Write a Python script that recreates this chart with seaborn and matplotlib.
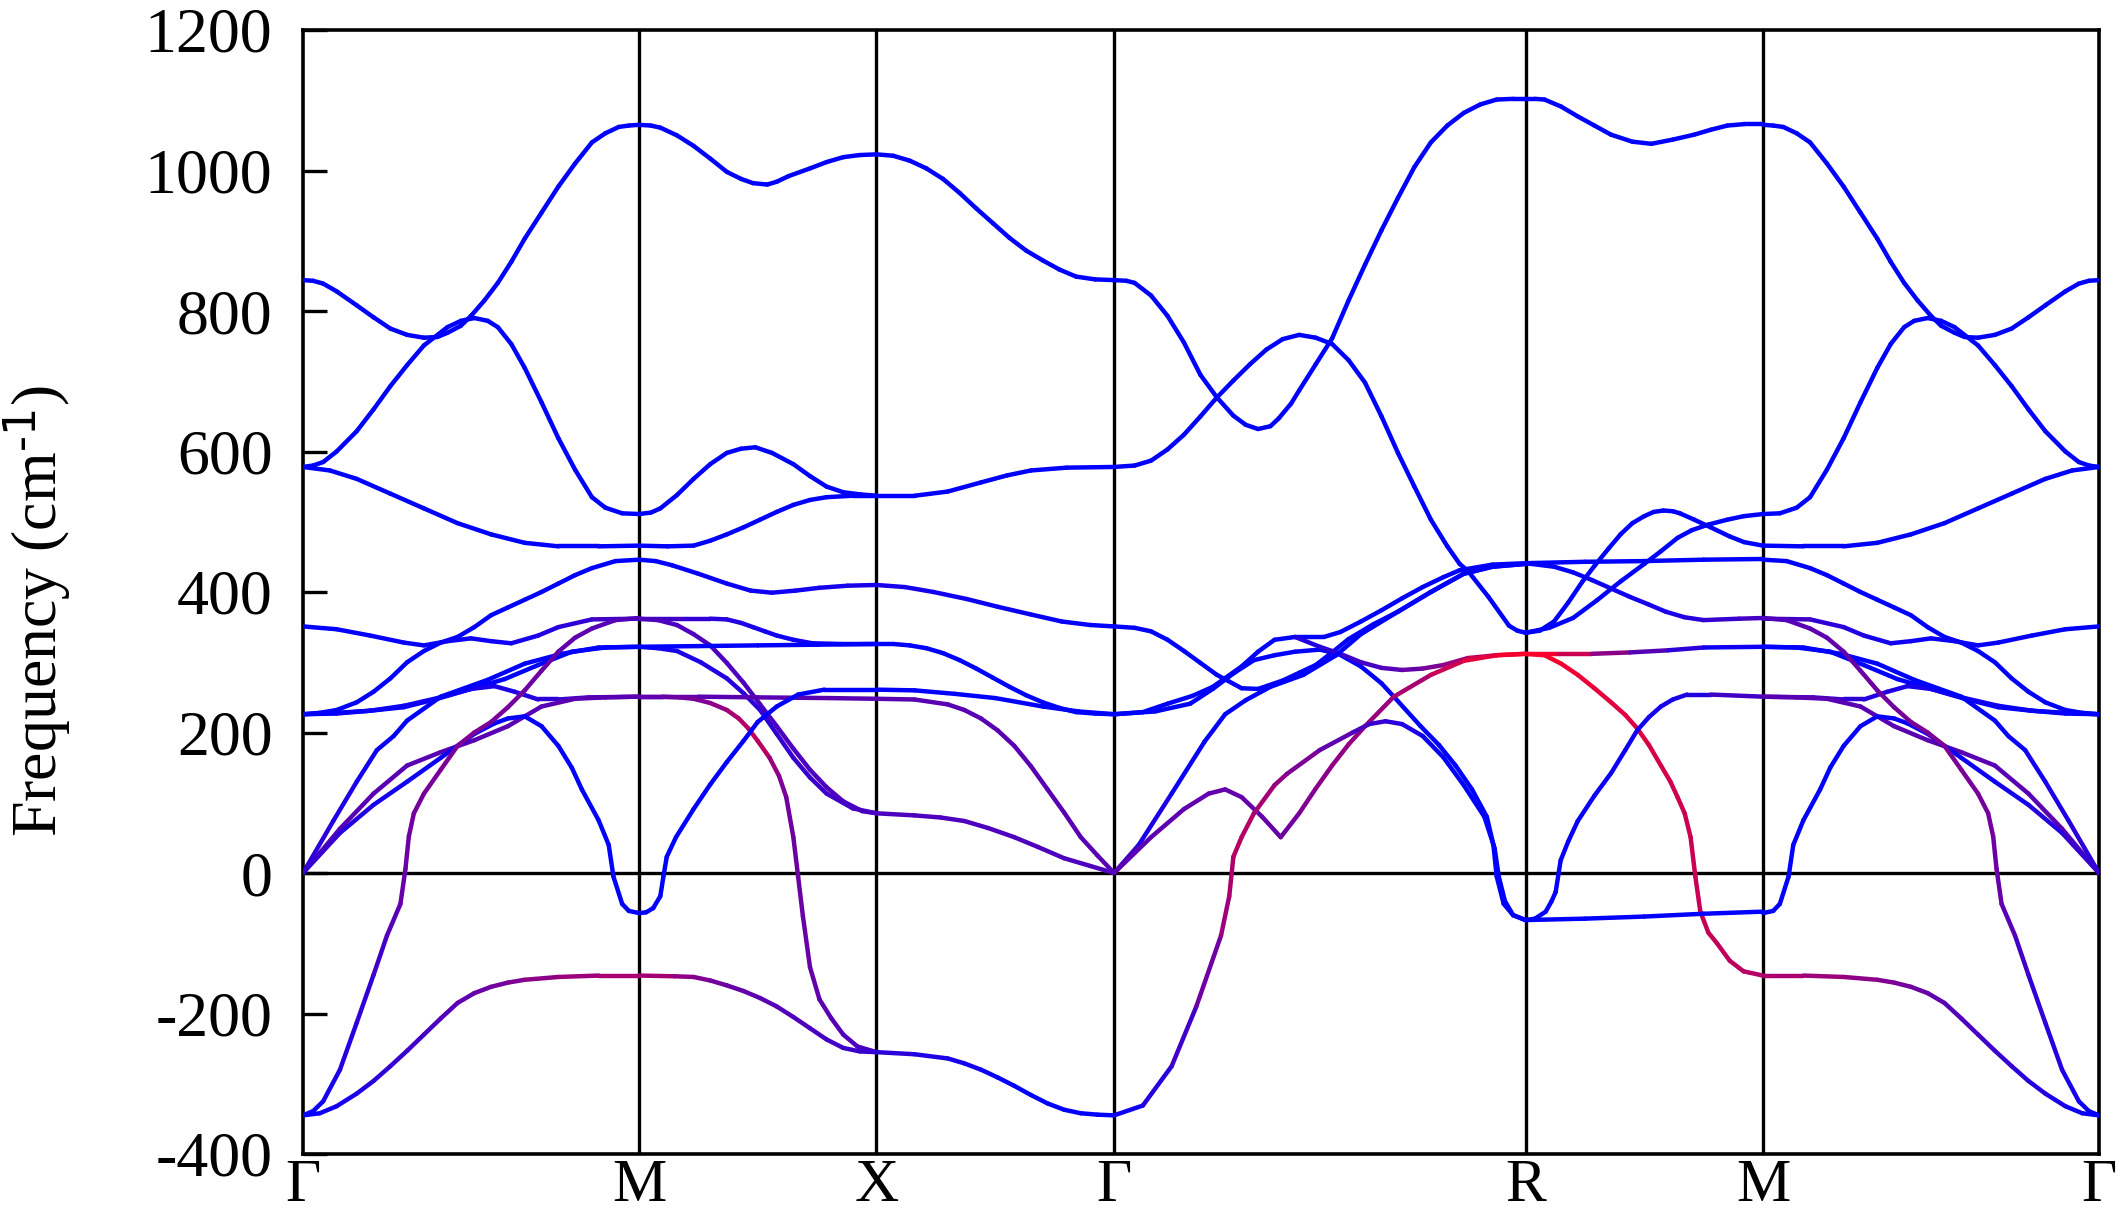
import numpy as np
import pandas as pd
import matplotlib
matplotlib.use('Agg')
import matplotlib.pyplot as plt
import seaborn as sns

sns.set_theme(style='white')
plt.rcParams['font.family'] = ['Liberation Serif', 'DejaVu Serif']
plt.rcParams['mathtext.default'] = 'regular'
plt.rcParams['axes.unicode_minus'] = False

# camino de alta simetria (celda cubica simple)
labels = ['Γ', 'M', 'X', 'Γ', 'R', 'M', 'Γ']
seg_len = [np.sqrt(2), 1.0, 1.0, np.sqrt(3), 1.0, np.sqrt(2)]
yticks = [-400, -200, 0, 200, 400, 600, 800, 1000, 1200]

# cada rama: (fraccion del tramo, frecuencia cm-1, paradas de color (t, w)); w: 0 azul -> 1 rojo
gm_bands = [
    ([0, .03, .06, .1, .16, .21, .26, .31, .36, .40, .43, .47, .50, .54, .58, .62, .66, .71, .76, .81, .86, .9, .94, .97, 1],
     [844, 843, 839, 828, 808, 791, 775, 766, 762, 763, 769, 779, 793, 815, 840, 870, 903, 940, 977, 1010, 1040, 1053, 1062, 1064, 1065], [(0, 0)]),
    ([0, .03, .06, .1, .16, .21, .26, .31, .36, .43, .47, .51, .55, .58, .62, .66, .71, .76, .81, .86, .9, .95, 1],
     [578, 580, 585, 600, 629, 660, 693, 723, 751, 777, 786, 790, 786, 777, 753, 719, 670, 619, 574, 535, 520, 512, 511], [(0, 0)]),
    ([0, .08, .16, .26, .36, .46, .56, .66, .76, .88, 1], [578, 573, 561, 540, 519, 498, 482, 470, 465, 465, 466], [(0, 0)]),
    ([0, .05, .10, .16, .21, .26, .31, .36, .41, .46, .51, .56, .61, .66, .71, .76, .81, .86, .93, 1],
     [226, 228, 232, 243, 258, 277, 300, 316, 328, 336, 350, 367, 378, 389, 400, 412, 424, 434, 444, 446], [(0, 0)]),
    ([0, .1, .2, .3, .36, .43, .5, .56, .62, .7, .76, .86, 1], [351, 347, 338, 328, 324, 330, 334, 330, 327, 338, 350, 361, 362], [(0, 0), (.6, .05), (1, .3)]),
    ([0, .1, .2, .3, .4, .5, .6, .7, .8, .9, 1], [226, 228, 231, 236, 248, 262, 276, 296, 315, 321, 322], [(0, 0)]),
    ([0, .1, .2, .3, .4, .5, .57, .63, .7, .76, .85, 1], [226, 227, 231, 238, 249, 262, 266, 258, 247, 247, 250, 251], [(0, 0), (.6, .1), (1, .35)]),
    ([0, .11, .21, .31, .41, .51, .61, .71, .81, .9, 1], [0, 63, 113, 153, 172, 189, 209, 237, 248, 250, 251], [(0, .35)]),
    ([0, .09, .16, .22, .27, .31, .41, .55, .66, .77, .88, 1], [0, 74, 130, 175, 195, 217, 251, 275, 298, 312, 321, 322], [(0, .2), (.3, 0)]),
    ([0, .11, .21, .31, .41, .51, .57, .61, .66, .71, .76, .8, .83, .88, .91, .924, .95, .97, 1],
     [0, 57, 97, 130, 164, 198, 213, 220, 223, 209, 181, 150, 119, 75, 40, -5, -44, -54, -57], [(0, .25), (.3, .05), (1, 0)]),
    ([0, .03, .06, .11, .16, .21, .25, .29, .305, .315, .33, .36, .41, .46, .51, .56, .61, .66, .71, .76, .81, .86, .93, 1],
     [-345, -339, -325, -280, -213, -145, -89, -44, 6, 52, 85, 113, 147, 181, 200, 215, 236, 260, 288, 315, 335, 348, 360, 363],
     [(0, 0), (.2, .2), (.32, .45), (.5, .5), (1, .3)]),
    ([0, .05, .1, .16, .21, .26, .31, .36, .41, .46, .51, .56, .61, .66, .76, .88, 1],
     [-345, -342, -332, -314, -296, -275, -253, -230, -207, -185, -171, -162, -156, -152, -148, -146, -146], [(0, 0), (.4, .3), (.7, .55), (1, .7)]),
]

mx_bands = [
    ([0, .05, .09, .16, .23, .3, .37, .43, .48, .54, .58, .63, .72, .79, .86, .93, 1],
     [1065, 1064, 1061, 1050, 1035, 1017, 998, 988, 982, 980, 984, 992, 1003, 1012, 1019, 1022, 1023], [(0, 0)]),
    ([0, .05, .09, .16, .23, .3, .37, .43, .49, .56, .65, .72, .79, .86, .93, 1],
     [511, 513, 519, 538, 561, 582, 598, 604, 606, 598, 582, 565, 550, 542, 539, 537], [(0, 0)]),
    ([0, .12, .23, .3, .37, .44, .51, .58, .65, .72, .79, .9, 1], [466, 465, 466, 473, 482, 492, 503, 514, 524, 531, 535, 537, 537], [(0, 0)]),
    ([0, .07, .14, .25, .37, .47, .56, .66, .76, .88, 1], [446, 444, 438, 426, 412, 402, 399, 402, 406, 409, 410], [(0, 0), (1, .1)]),
    ([0, .2, .3, .37, .43, .48, .53, .58, .65, .73, .85, 1], [362, 362, 362, 361, 356, 350, 344, 338, 332, 327, 326, 326], [(0, .3), (.6, .05)]),
    ([0, .08, .16, .23, .3, .37, .44, .51, .58, .65, .72, .79, .86, .94, 1],
     [362, 360, 353, 340, 324, 299, 271, 240, 209, 177, 147, 122, 102, 88, 85], [(0, .3)]),
    ([0, .08, .16, .26, .37, .44, .51, .58, .65, .72, .79, .9, 1], [322, 320, 316, 300, 277, 256, 232, 198, 164, 136, 113, 92, 85], [(0, .05), (.6, .2), (1, .3)]),
    ([0, .25, .5, .75, 1], [322, 323, 324, 325, 326], [(0, 0)]),
    ([0, .25, .5, .8, 1], [251, 251, 250, 249, 248], [(0, .35)]),
    ([0, .1, .17, .23, .3, .37, .42, .46, .5, .55, .59, .62, .65, .67, .69, .72, .76, .81, .86, .92, 1],
     [251, 251, 250, 248, 242, 232, 220, 206, 188, 164, 138, 108, 51, -5, -61, -134, -180, -207, -230, -247, -255],
     [(0, .35), (.3, .5), (.5, .8), (.62, .45), (1, .25)]),
    ([0, .03, .06, .09, .103, .117, .156, .23, .3, .37, .44, .5, .58, .67, .78, 1],
     [-57, -56, -50, -33, -5, 23, 51, 91, 126, 158, 188, 215, 237, 254, 261, 261], [(0, 0)]),
    ([0, .15, .23, .3, .37, .44, .51, .58, .65, .72, .79, .86, .93, 1],
     [-146, -147, -148, -153, -160, -168, -178, -190, -205, -221, -237, -249, -254, -255], [(0, .7), (.4, .4), (1, .2)]),
]

xg_bands = [
    ([0, .07, .14, .21, .28, .35, .42, .49, .56, .63, .7, .77, .84, .92, 1],
     [1023, 1021, 1014, 1003, 988, 968, 946, 925, 904, 886, 872, 859, 849, 845, 844], [(0, 0)]),
    ([0, .16, .3, .44, .55, .65, .8, 1], [537, 537, 543, 556, 566, 573, 577, 578], [(0, 0)]),
    ([0, .12, .24, .38, .51, .65, .78, .9, 1], [410, 407, 400, 390, 379, 368, 358, 353, 351], [(0, .1), (1, 0)]),
    ([0, .07, .14, .21, .28, .35, .42, .49, .56, .63, .7, .77, .84, .92, 1],
     [326, 326, 324, 320, 313, 303, 291, 278, 265, 253, 243, 235, 229, 227, 226], [(0, 0)]),
    ([0, .16, .33, .5, .7, .85, 1], [261, 260, 255, 249, 237, 230, 226], [(0, 0)]),
    ([0, .16, .3, .37, .44, .51, .58, .65, .72, .79, .86, .93, 1], [248, 247, 240, 232, 220, 203, 181, 152, 119, 86, 51, 25, 0], [(0, .35)]),
    ([0, .16, .27, .37, .47, .58, .68, .79, .9, 1], [85, 82, 79, 74, 64, 51, 37, 21, 10, 0], [(0, .3)]),
    ([0, .16, .3, .37, .44, .51, .58, .65, .72, .79, .86, .93, 1],
     [-255, -258, -264, -271, -280, -291, -303, -316, -328, -337, -342, -344, -345], [(0, .2), (.6, 0)]),
]

gr_bands = [
    ([0, .03, .05, .09, .13, .17, .21, .25, .29, .32, .35, .38, .40, .43, .45, .49, .53, .57, .61, .65, .69, .73, .77, .81, .85, .89, .93, .97, 1],
     [844, 843, 840, 822, 793, 755, 709, 677, 651, 638, 632, 636, 647, 668, 687, 724, 761, 815, 866, 915, 961, 1005, 1040, 1064, 1082, 1094, 1101, 1102, 1102], [(0, 0)]),
    ([0, .05, .09, .13, .17, .21, .25, .29, .33, .37, .41, .45, .49, .53, .57, .61, .65, .69, .73, .77, .81, .84, .86, .91, .96, .98, 1],
     [578, 580, 587, 603, 624, 650, 677, 701, 724, 745, 760, 766, 762, 753, 730, 698, 650, 598, 550, 503, 465, 440, 430, 393, 352, 345, 342], [(0, 0)]),
    ([0, .07, .13, .19, .24, .31, .35, .39, .44, .51, .55, .6, .65, .7, .75, .8, .84, .92, 1],
     [226, 229, 241, 252, 265, 294, 315, 332, 336, 336, 343, 358, 374, 391, 407, 421, 431, 439, 441], [(0, 0)]),
    ([0, .05, .09, .13, .17, .21, .25, .31, .35, .41, .45, .49, .53, .57, .63, .69, .77, .85, .92, 1],
     [351, 349, 344, 332, 316, 299, 282, 263, 262, 274, 285, 296, 314, 333, 354, 372, 400, 426, 436, 440], [(0, 0)]),
    ([0, .1, .185, .24, .29, .34, .39, .44, .5, .545, .6, .65, .68, .745, .79, .83, .87, .906, .922, .93, .947, .97, 1],
     [226, 230, 241, 262, 284, 303, 310, 315, 318, 312, 294, 270, 251, 209, 182, 153, 119, 80, 40, -5, -44, -60, -67], [(0, 0)]),
    ([.44, .5, .55, .6, .65, .7, .75, .8, .86, .93, 1], [336, 322, 312, 300, 292, 289, 291, 296, 306, 310, 312],
     [(.44, .1), (.7, .35), (.86, .65), (1, 1)]),
    ([0, .06, .14, .22, .27, .32, .38, .46, .54, .6, .69, .77, .85, .92, 1],
     [0, 40, 113, 187, 226, 246, 265, 282, 310, 340, 372, 400, 426, 436, 440], [(0, .3), (.12, .05), (.3, 0)]),
    ([0, .09, .17, .23, .27, .31, .36, .405, .45, .49, .53, .57, .61, .68, .77, .85, .93, 1],
     [0, 51, 91, 113, 119, 108, 80, 51, 85, 120, 153, 183, 209, 251, 282, 302, 310, 312],
     [(0, .35), (.4, .4), (.5, .55), (.68, .6), (.85, .85), (1, 1)]),
    ([0, .07, .14, .2, .26, .28, .29, .31, .34, .39, .42, .5, .58, .62, .66, .7, .75, .8, .85, .9, .925, .935, .95, .97, 1],
     [-345, -331, -275, -190, -89, -33, 23, 51, 85, 125, 141, 175, 200, 212, 216, 212, 195, 165, 125, 80, 35, -5, -40, -60, -67],
     [(0, 0), (.2, .3), (.3, .75), (.45, .5), (.66, .2), (.8, 0)]),
]

rm_bands = [
    ([0, .04, .08, .15, .22, .29, .36, .45, .53, .62, .71, .78, .85, .92, 1],
     [1102, 1102, 1101, 1091, 1077, 1064, 1051, 1041, 1038, 1044, 1051, 1058, 1064, 1066, 1066], [(0, 0)]),
    ([0, .06, .12, .18, .24, .29, .35, .40, .45, .5, .54, .58, .62, .65, .71, .78, .86, .92, 1],
     [342, 345, 358, 385, 415, 437, 462, 482, 498, 508, 514, 516, 515, 512, 503, 492, 479, 471, 466], [(0, 0)]),
    ([0, .1, .2, .3, .4, .5, .57, .64, .7, .77, .85, .92, 1], [342, 349, 363, 388, 415, 440, 458, 477, 488, 496, 503, 508, 511], [(0, 0)]),
    ([0, .25, .5, .75, 1], [441, 443, 444, 446, 447], [(0, 0)]),
    ([0, .12, .2, .28, .36, .44, .52, .59, .67, .75, .9, 1], [441, 436, 428, 417, 405, 393, 382, 372, 364, 360, 362, 363], [(0, 0), (.6, .1), (1, .3)]),
    ([0, .14, .28, .44, .6, .75, 1], [312, 312, 312, 314, 317, 321, 322], [(0, 1), (.15, .9), (.45, .4), (.75, .1), (1, 0)]),
    ([0, .08, .15, .22, .29, .36, .42, .47, .52, .57, .61, .64, .67, .695, .715, .736, .77, .806, .86, .918, 1],
     [312, 310, 298, 282, 263, 243, 225, 206, 182, 153, 130, 108, 85, 51, -5, -55, -85, -100, -125, -140, -146],
     [(0, 1), (.5, .85), (1, .7)]),
    ([0, .04, .085, .11, .127, .148, .18, .22, .29, .36, .42, .47, .52, .57, .62, .68, .78, 1],
     [-67, -65, -55, -40, -27, 18, 45, 74, 110, 142, 175, 203, 222, 237, 247, 254, 254, 251], [(0, 0), (.7, .1), (1, .35)]),
    ([0, .25, .5, .75, 1], [-67, -65, -62, -58, -55], [(0, 0)]),
]

# el ultimo tramo M-G es el espejo de G-M
segments = [(gm_bands, False), (mx_bands, False), (xg_bands, False),
            (gr_bands, False), (rm_bands, False), (gm_bands, True)]

kpos = np.concatenate([[0], np.cumsum(seg_len)])


def mix(w):
    return (float(w), 0.0, float(1 - 0.85 * w))


rows = []
palette = {}
pid = 0
for s, (bands, flip) in enumerate(segments):
    for t, f, stops in bands:
        t = np.asarray(t, float)
        st = [p[0] for p in stops]
        sw = [p[1] for p in stops]
        w = np.interp(t, st, sw)
        tt = 1 - t if flip else t
        k = kpos[s] + tt * seg_len[s]
        for i in range(len(t) - 1):
            name = f'p{pid}'
            palette[name] = mix((w[i] + w[i + 1]) / 2)
            rows.append((k[i], f[i], name))
            rows.append((k[i + 1], f[i + 1], name))
            pid += 1

df = pd.DataFrame(rows, columns=['k', 'freq', 'piece'])

W, H = 2119, 1218
fig = plt.figure(figsize=(W / 100, H / 100), dpi=100)
ax = fig.add_axes([303 / W, 1 - 1154 / H, 1796 / W, 1124 / H])

for xv in kpos[1:-1]:
    ax.axvline(xv, color='black', lw=2.4, zorder=1)
ax.axhline(0, color='black', lw=2.4, zorder=1)

sns.lineplot(data=df, x='k', y='freq', hue='piece', palette=palette,
             estimator=None, sort=False, legend=False, lw=3.2,
             solid_capstyle='round', ax=ax, zorder=3)

ax.set_xlim(kpos[0], kpos[-1])
ax.set_ylim(-400, 1200)
ax.set_xticks(kpos)
ax.set_xticklabels(labels)
ax.set_yticks(yticks)
ax.set_yticklabels([str(v) for v in yticks])
ax.tick_params(axis='x', length=0, pad=3, labelsize=44, colors='black')
ax.tick_params(axis='y', direction='in', length=17, width=2.4, pad=22,
               labelsize=46, colors='black', left=True, right=False)
for sp in ax.spines.values():
    sp.set_color('black')
    sp.set_linewidth(2.6)
ax.set_xlabel('')
ax.set_ylabel('Frequency (cm$^{\\text{-1}}$)', fontsize=46, color='black')
ax.yaxis.set_label_coords(-0.128, 0.483)

fig.savefig('out.png', dpi=100)
